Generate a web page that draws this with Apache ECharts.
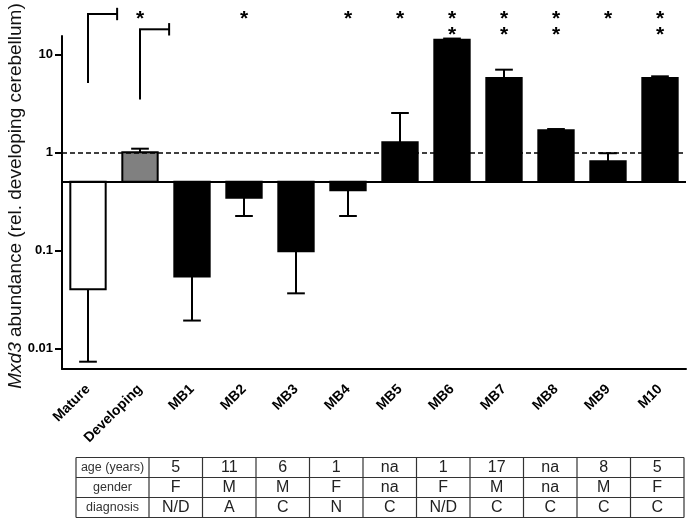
<!DOCTYPE html>
<html><head><meta charset="utf-8">
<script src="https://cdn.jsdelivr.net/npm/echarts@6/dist/echarts.min.js"></script>
<style>html,body{margin:0;padding:0;background:#fff}#c{width:692px;height:525px}</style>
</head><body><div id="c"></div>
<script>
// ---- data ----
const categories = ['Mature','Developing','MB1','MB2','MB3','MB4','MB5','MB6','MB7','MB8','MB9','M10'];
const values     = [0.04, 1.0, 0.054, 0.345, 0.098, 0.41, 1.27, 14.1, 5.73, 1.68, 0.81, 5.73];
const errorEnds  = [0.0073, 1.09, 0.0192, 0.224, 0.0364, 0.224, 2.52, 14.5, 6.98, 1.73, 0.98, 5.97];
const starCounts = [0, 1, 0, 1, 0, 1, 1, 2, 2, 2, 1, 2];
const bracketCategories = [0, 1];
const bracketBottoms = [5.1, 3.47];
const baselineValue = 0.5;
const referenceValue = 1;
const yTickValues = [0.01, 0.1, 1, 10];
const tableRowHeaders = ['age (years)', 'gender', 'diagnosis'];
const ages      = ['5','11','6','1','na','1','17','na','8','5'];
const genders   = ['F','M','M','F','na','F','M','na','M','F'];
const diagnoses = ['N/D','A','C','N','C','N/D','C','C','C','C'];

// ---- style / layout ----
const FONT = "'Liberation Sans', Arial, sans-serif";
const barFills = ['#ffffff', '#808080', '#000','#000','#000','#000','#000','#000','#000','#000','#000','#000'];
const bracketTopOffsets = [-22, -6.7];
const table = {left: 76, headerRight: 149, right: 684, top: 457.5, rowH: 20};

function bandWidth(api) { return api.coord([1, 1])[0] - api.coord([0, 1])[0]; }

function renderBar(params, api) {
  const i = api.value(0), v = api.value(1);
  const p = api.coord([i, v]);
  const b = api.coord([i, baselineValue]);
  const w = bandWidth(api) * 0.68;
  return {type: 'rect',
    shape: {x: p[0] - w / 2, y: Math.min(p[1], b[1]), width: w, height: Math.abs(b[1] - p[1])},
    style: {fill: barFills[i], stroke: '#000', lineWidth: 2}};
}
function renderErr(params, api) {
  const i = api.value(0);
  const p = api.coord([i, api.value(1)]);
  const e = api.coord([i, api.value(2)]);
  const cap = bandWidth(api) * 0.17;
  return {type: 'group', children: [
    {type: 'line', shape: {x1: p[0], y1: p[1], x2: e[0], y2: e[1]}, style: {stroke: '#000', lineWidth: 2}},
    {type: 'line', shape: {x1: e[0] - cap, y1: e[1], x2: e[0] + cap, y2: e[1]}, style: {stroke: '#000', lineWidth: 2}}
  ]};
}
function renderStars(params, api) {
  const i = api.value(0), n = api.value(1);
  const x = api.coord([i, 1])[0];
  const top = params.coordSys.y;
  const ys = [top - 21.5, top - 5.5];
  const ch = [];
  for (let k = 0; k < n; k++) {
    ch.push({type: 'text', style: {text: '*', x: x, y: ys[k] + 4.6, align: 'center', verticalAlign: 'middle',
      fontSize: 21, fontWeight: 'bold', fontFamily: FONT, fill: '#000'}});
  }
  return {type: 'group', children: ch};
}
function renderBracket(params, api) {
  const idx = params.dataIndex;
  const p = api.coord([api.value(0), api.value(1)]);
  const topY = params.coordSys.y + bracketTopOffsets[idx];
  const x2 = p[0] + bandWidth(api) * 0.56;
  const st = {stroke: '#000', lineWidth: 2};
  return {type: 'group', children: [
    {type: 'line', shape: {x1: p[0], y1: p[1], x2: p[0], y2: topY}, style: st},
    {type: 'line', shape: {x1: p[0] - 1, y1: topY, x2: x2, y2: topY}, style: st},
    {type: 'line', shape: {x1: x2, y1: topY - 6.2, x2: x2, y2: topY + 6.2}, style: st}
  ]};
}

// table graphics
const tableGraphics = [];
(function () {
  const nCols = ages.length;
  const colW = (table.right - table.headerRight) / nCols;
  const rows = [ages, genders, diagnoses];
  const bottom = table.top + table.rowH * rows.length;
  const ls = {stroke: '#333', lineWidth: 1.2};
  for (let r = 0; r <= rows.length; r++) {
    const y = table.top + r * table.rowH;
    tableGraphics.push({type: 'line', shape: {x1: table.left, y1: y, x2: table.right, y2: y}, style: ls});
  }
  tableGraphics.push({type: 'line', shape: {x1: table.left, y1: table.top, x2: table.left, y2: bottom}, style: ls});
  for (let c = 0; c <= nCols; c++) {
    const x = table.headerRight + c * colW;
    tableGraphics.push({type: 'line', shape: {x1: x, y1: table.top, x2: x, y2: bottom}, style: ls});
  }
  for (let r = 0; r < rows.length; r++) {
    const cy = table.top + (r + 0.5) * table.rowH;
    tableGraphics.push({type: 'text', style: {text: tableRowHeaders[r], x: (table.left + table.headerRight) / 2, y: cy,
      align: 'center', verticalAlign: 'middle', fontSize: 12.5, fontFamily: FONT, fill: '#333'}});
    for (let c = 0; c < nCols; c++) {
      tableGraphics.push({type: 'text', style: {text: rows[r][c], x: table.headerRight + (c + 0.5) * colW, y: cy,
        align: 'center', verticalAlign: 'middle', fontSize: 16, fontFamily: FONT, fill: '#222'}});
    }
  }
})();

const chart = echarts.init(document.getElementById('c'), null, {renderer: 'canvas'});
chart.setOption({
  animation: false,
  backgroundColor: '#fff',
  grid: {left: 62, right: 6, top: 36, bottom: 156, containLabel: false, outerBoundsMode: 'none'},
  xAxis: {
    type: 'category', data: categories,
    axisLine: {lineStyle: {color: '#000', width: 2}},
    axisTick: {alignWithLabel: true, length: 6, lineStyle: {color: '#000', width: 2}},
    axisLabel: {rotate: 45, margin: 18, fontSize: 14, fontWeight: 'bold', color: '#000', fontFamily: FONT, interval: 0}
  },
  yAxis: {
    type: 'log', logBase: 10, min: 0.00615, max: 15.4,
    name: '{i|Mxd3} abundance (rel. developing cerebellum)',
    nameLocation: 'middle', nameRotate: 90, nameGap: 37, nameMoveOverlap: false,
    nameTextStyle: {fontSize: 19, fontFamily: FONT, color: '#111', padding: [0, 0, 0, 13],
      rich: {i: {fontStyle: 'italic', fontSize: 19, fontFamily: FONT, color: '#111'}}},
    splitLine: {show: false},
    axisLine: {show: true, lineStyle: {color: '#000', width: 2}},
    axisTick: {show: true, length: 7, lineStyle: {color: '#000', width: 2}, customValues: yTickValues},
    axisLabel: {margin: 9, fontSize: 13, fontWeight: 'bold', color: '#000', fontFamily: FONT,
      customValues: yTickValues, formatter: v => String(v)}
  },
  graphic: tableGraphics,
  series: [
    {type: 'line', data: values, showSymbol: false, lineStyle: {opacity: 0}, silent: true, z: 3,
      markLine: {silent: true, symbol: 'none', label: {show: false}, animation: false,
        data: [
          {yAxis: referenceValue, lineStyle: {type: [5, 3], width: 1.5, color: '#000'}},
          {yAxis: baselineValue, lineStyle: {type: 'solid', width: 2, color: '#000'}}
        ]}},
    {type: 'custom', clip: false, renderItem: renderBar, encode: {x: 0, y: 1}, z: 2,
      data: values.map((v, i) => [i, v])},
    {type: 'custom', clip: false, renderItem: renderErr, encode: {x: 0, y: [1, 2]}, z: 2,
      data: values.map((v, i) => [i, v, errorEnds[i]])},
    {type: 'custom', clip: false, renderItem: renderStars, encode: {x: 0}, z: 4,
      data: starCounts.map((n, i) => [i, n]).filter(d => d[1] > 0)},
    {type: 'custom', clip: false, renderItem: renderBracket, encode: {x: 0, y: 1}, z: 4,
      data: bracketCategories.map((c, i) => [c, bracketBottoms[i]])}
  ]
});
</script></body></html>
